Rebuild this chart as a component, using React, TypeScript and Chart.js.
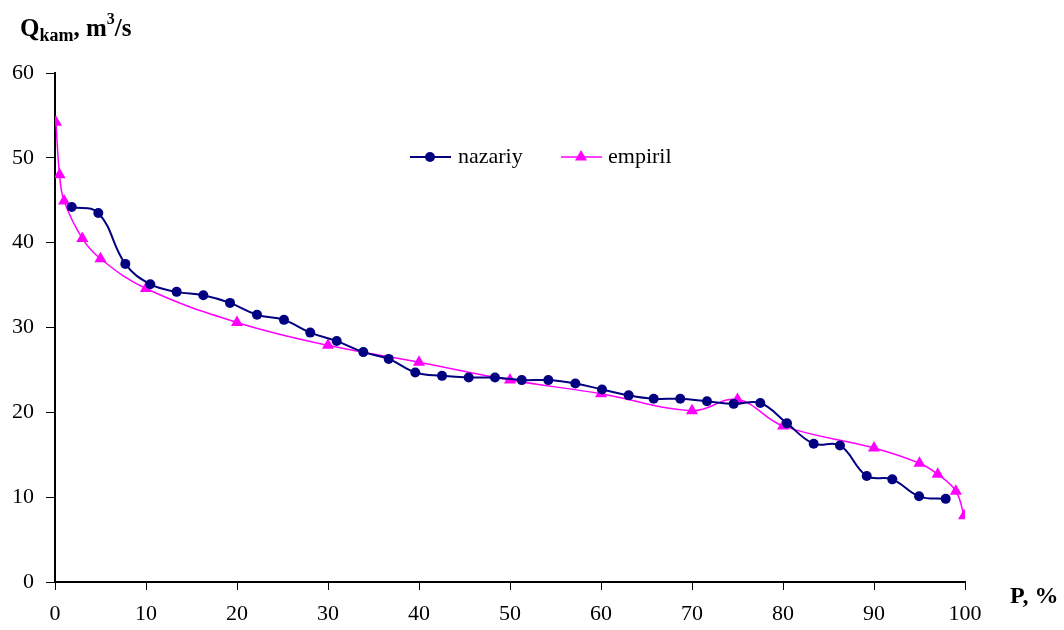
import React, { useEffect, useRef } from "react";
import { Chart, registerables } from "chart.js";

Chart.register(...registerables);

const nazariyP = [1.84, 4.76, 7.73, 10.47, 13.37, 16.3, 19.23, 22.2, 25.16, 28.05, 30.96, 33.88, 36.67, 39.59, 42.53, 45.46, 48.35, 51.29, 54.21, 57.18, 60.11, 63.04, 65.79, 68.71, 71.65, 74.58, 77.51, 80.44, 83.37, 86.26, 89.2, 92.01, 94.95, 97.88];
const nazariyQ = [44.2, 43.5, 37.5, 35.1, 34.2, 33.8, 32.9, 31.5, 30.9, 29.4, 28.4, 27.1, 26.3, 24.7, 24.3, 24.1, 24.1, 23.8, 23.8, 23.4, 22.7, 22.0, 21.6, 21.6, 21.3, 21.0, 21.1, 18.7, 16.3, 16.1, 12.5, 12.1, 10.1, 9.8];

const empirilP = [0.1, 0.5, 1, 3, 5, 10, 20, 30, 40, 50, 60, 70, 75, 80, 90, 95, 97, 99, 99.9];
const empirilQ = [54.2, 48.0, 44.9, 40.5, 38.1, 34.6, 30.6, 27.9, 25.9, 23.8, 22.2, 20.2, 21.5, 18.4, 15.8, 14.0, 12.7, 10.7, 7.8];

const xTicks = [0, 10, 20, 30, 40, 50, 60, 70, 80, 90, 100];
const yTicks = [0, 10, 20, 30, 40, 50, 60];

const seriesNames = ["nazariy", "empiril"];
const NAVY = "#000080";
const MAGENTA = "#FF00FF";
const FONT = "'Liberation Serif', 'Times New Roman', serif";

const decorPlugin = {
  id: "decor",
  afterDraw(chart: any) {
    const ctx = chart.ctx;
    ctx.save();
    ctx.fillStyle = "#000";
    ctx.textBaseline = "alphabetic";
    ctx.textAlign = "left";
    // Y title: Q_kam, m^3/s
    let x = 20;
    const base = 36;
    ctx.font = `bold 25px ${FONT}`;
    ctx.fillText("Q", x, base);
    x += ctx.measureText("Q").width;
    ctx.font = `bold 18px ${FONT}`;
    ctx.fillText("kam", x, base + 5);
    x += ctx.measureText("kam").width;
    ctx.font = `bold 25px ${FONT}`;
    ctx.fillText(", m", x, base);
    x += ctx.measureText(", m").width;
    ctx.font = `bold 16px ${FONT}`;
    ctx.fillText("3", x, base - 12);
    x += ctx.measureText("3").width;
    ctx.font = `bold 25px ${FONT}`;
    ctx.fillText("/s", x, base);
    // X title
    ctx.font = `bold 24px ${FONT}`;
    ctx.fillText("P, %", 1010, 603);

    // Legend
    const ly = 157;
    ctx.lineWidth = 2;
    ctx.strokeStyle = NAVY;
    ctx.beginPath();
    ctx.moveTo(410, ly);
    ctx.lineTo(451, ly);
    ctx.stroke();
    ctx.fillStyle = NAVY;
    ctx.beginPath();
    ctx.arc(430, ly, 5, 0, Math.PI * 2);
    ctx.fill();
    ctx.strokeStyle = MAGENTA;
    ctx.lineWidth = 1.5;
    ctx.beginPath();
    ctx.moveTo(561, ly);
    ctx.lineTo(602, ly);
    ctx.stroke();
    ctx.fillStyle = MAGENTA;
    ctx.beginPath();
    const r = 7;
    ctx.moveTo(581, ly - r);
    ctx.lineTo(581 + r * 0.866, ly + r * 0.5);
    ctx.lineTo(581 - r * 0.866, ly + r * 0.5);
    ctx.closePath();
    ctx.fill();
    ctx.fillStyle = "#000";
    ctx.font = `22px ${FONT}`;
    ctx.textBaseline = "middle";
    ctx.fillText(seriesNames[0], 458, ly);
    ctx.fillText(seriesNames[1], 608, ly);
    ctx.restore();
  },
};

export default function App() {
  const ref = useRef<HTMLCanvasElement>(null);
  useEffect(() => {
    const canvas = ref.current;
    if (!canvas) return;
    const chart = new Chart(canvas, {
      type: "line",
      data: {
        datasets: [
          {
            label: seriesNames[0],
            data: nazariyP.map((p, i) => ({ x: p, y: nazariyQ[i] })),
            borderColor: NAVY,
            backgroundColor: NAVY,
            borderWidth: 2,
            pointStyle: "circle",
            pointRadius: 5,
            pointBorderWidth: 0,
            tension: 0.4,
            fill: false,
          },
          {
            label: seriesNames[1],
            data: empirilP.map((p, i) => ({ x: p, y: empirilQ[i] })),
            borderColor: MAGENTA,
            backgroundColor: MAGENTA,
            borderWidth: 1.5,
            pointStyle: "triangle",
            pointRadius: 7,
            pointBorderWidth: 0,
            tension: 0.4,
            fill: false,
          },
        ],
      },
      options: {
        responsive: false,
        animation: false,
        layout: { padding: { top: 73, right: 99, left: 0, bottom: 0 } },
        plugins: {
          legend: { display: false },
          tooltip: { enabled: false },
        },
        scales: {
          x: {
            type: "linear",
            min: 0,
            max: 100,
            afterBuildTicks: (s: any) => {
              s.ticks = xTicks.map((v) => ({ value: v }));
            },
            afterFit: (s: any) => {
              s.height = 48;
            },
            grid: {
              display: true,
              drawOnChartArea: false,
              drawTicks: true,
              tickLength: 8,
              color: "#000",
              lineWidth: 1,
            },
            border: { display: true, color: "#000", width: 2 },
            ticks: {
              color: "#000",
              font: { family: FONT, size: 22 },
              padding: 11,
              maxRotation: 0,
            },
          },
          y: {
            type: "linear",
            min: 0,
            max: 60,
            afterBuildTicks: (s: any) => {
              s.ticks = yTicks.map((v) => ({ value: v }));
            },
            afterFit: (s: any) => {
              s.width = 55;
            },
            grid: {
              display: true,
              drawOnChartArea: false,
              drawTicks: true,
              tickLength: 9,
              color: "#000",
              lineWidth: 1,
            },
            border: { display: true, color: "#000", width: 2 },
            ticks: {
              color: "#000",
              font: { family: FONT, size: 22 },
              padding: 12,
            },
          },
        },
      },
      plugins: [decorPlugin],
    } as any);
    return () => chart.destroy();
  }, []);
  return (
    <div style={{ position: "fixed", left: 0, top: 0, width: 1064, height: 630, background: "#fff" }}>
      <canvas ref={ref} width={1064} height={630} style={{ display: "block" }} />
    </div>
  );
}
